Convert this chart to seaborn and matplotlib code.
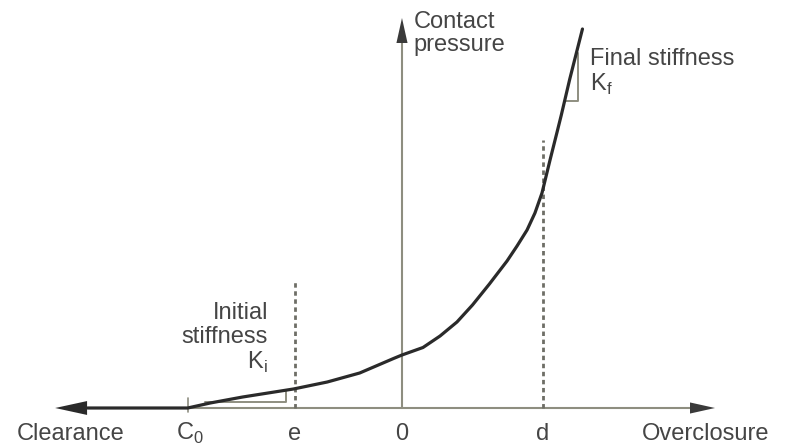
import matplotlib
matplotlib.use("Agg")
import matplotlib.pyplot as plt
import seaborn as sns
import pandas as pd

# Pressure-overclosure curve
# (overclosure in units of d, pressure in arbitrary units)
overclosure = [-2.23, -1.52, -1.36, -1.13, -0.77, -0.53, -0.30, -0.06, 0.00,
               0.149, 0.27, 0.39, 0.50, 0.62, 0.745, 0.816, 0.887, 0.943,
               0.993, 1.05, 1.10, 1.13, 1.19, 1.28]
pressure = [0.00, 0.00, 0.05, 0.11, 0.19, 0.26, 0.35, 0.495, 0.53,
            0.605, 0.72, 0.86, 1.03, 1.24, 1.47, 1.62, 1.78, 1.95,
            2.15, 2.48, 2.76, 2.93, 3.29, 3.79]

# Key points on the overclosure axis
c0_pos = -1.52
e_pos = -0.76
zero_pos = 0.0
d_pos = 1.0
tick_pos = [c0_pos, e_pos, zero_pos, d_pos]
tick_labels = ["C$_\\mathregular{0}$", "e", "0", "d"]

# Heights of the dashed guide lines
e_top = 1.26
d_top = 2.68

# Slope triangles (corners)
init_tri_x = [-1.40, -0.82, -0.82]
init_tri_p = [0.06, 0.06, 0.18]
final_tri_x = [1.156, 1.248, 1.248]
final_tri_p = [3.07, 3.07, 3.55]

sns.set_theme(style="white")
plt.rcParams["font.family"] = ["Liberation Sans", "DejaVu Sans"]

axis_col = "#8e8e80"
text_col = "#454545"
curve_col = "#2a2a2a"

fig = plt.figure(figsize=(7.91, 4.46), dpi=100)
ax = fig.add_axes([0, 0, 1, 1])
ax.set_xlim(-2.851, 2.759)
ax.set_ylim(-0.38, 4.08)
ax.axis("off")

# axes with arrows
ax.plot([c0_pos, 2.04], [0, 0], color=axis_col, lw=1.5, zorder=1)
ax.annotate("", xy=(2.22, 0), xytext=(2.02, 0),
            arrowprops=dict(arrowstyle="-|>,head_length=0.9,head_width=0.2",
                            mutation_scale=20, color="#3a3a3a", lw=0, shrinkA=0, shrinkB=0))
ax.plot([zero_pos, zero_pos], [0, 3.66], color=axis_col, lw=1.5, zorder=1)
ax.annotate("", xy=(0, 3.90), xytext=(0, 3.64),
            arrowprops=dict(arrowstyle="-|>,head_length=0.9,head_width=0.2",
                            mutation_scale=20, color="#3a3a3a", lw=0, shrinkA=0, shrinkB=0))
ax.annotate("", xy=(-2.46, 0), xytext=(-2.20, 0),
            arrowprops=dict(arrowstyle="-|>,head_length=1.15,head_width=0.25",
                            mutation_scale=20, color=curve_col, lw=0, shrinkA=0, shrinkB=0))

# C0 tick
ax.plot([c0_pos, c0_pos], [-0.04, 0.10], color=axis_col, lw=1.2, zorder=1)

# dashed guides
ax.plot([e_pos, e_pos], [0, e_top], color="#6e6e66", lw=2.0, ls=(0, (1.6, 1.3)), zorder=1)
ax.plot([d_pos, d_pos], [0, d_top], color="#6e6e66", lw=2.0, ls=(0, (1.6, 1.3)), zorder=1)

# slope triangles
ax.plot(init_tri_x, init_tri_p, color=axis_col, lw=1.4, zorder=1)
ax.plot(final_tri_x, final_tri_p, color=axis_col, lw=1.4, zorder=1)

# curve
df = pd.DataFrame({"overclosure": overclosure, "pressure": pressure})
sns.lineplot(data=df, x="overclosure", y="pressure", sort=False, estimator=None,
             color=curve_col, lw=2.3, ax=ax, zorder=3)
ax.set_xlabel("")
ax.set_ylabel("")

fs = 17
for xp, lab in zip(tick_pos, tick_labels):
    if lab.startswith("C"):
        ax.text(xp - 0.08, -0.32, lab, ha="left", va="baseline", fontsize=fs, color=text_col)
    else:
        ax.text(xp, -0.32, lab, ha="center", va="baseline", fontsize=fs, color=text_col)

ax.text(-2.73, -0.32, "Clearance", ha="left", va="baseline", fontsize=fs, color=text_col)
ax.text(1.70, -0.32, "Overclosure", ha="left", va="baseline", fontsize=fs, color=text_col)
ax.text(0.08, 3.97, "Contact\npressure", ha="left", va="top", fontsize=fs,
        color=text_col, linespacing=1.05)
ax.text(1.33, 3.60, "Final stiffness\nK$_\\mathregular{f}$", ha="left", va="top",
        fontsize=fs, color=text_col, linespacing=1.1)
ax.text(-0.95, 1.06, "Initial\nstiffness\nK$_\\mathregular{i}$", ha="right", va="top",
        ma="right", fontsize=fs, color=text_col, linespacing=1.1)

fig.savefig("out.png", dpi=100, facecolor="white")
